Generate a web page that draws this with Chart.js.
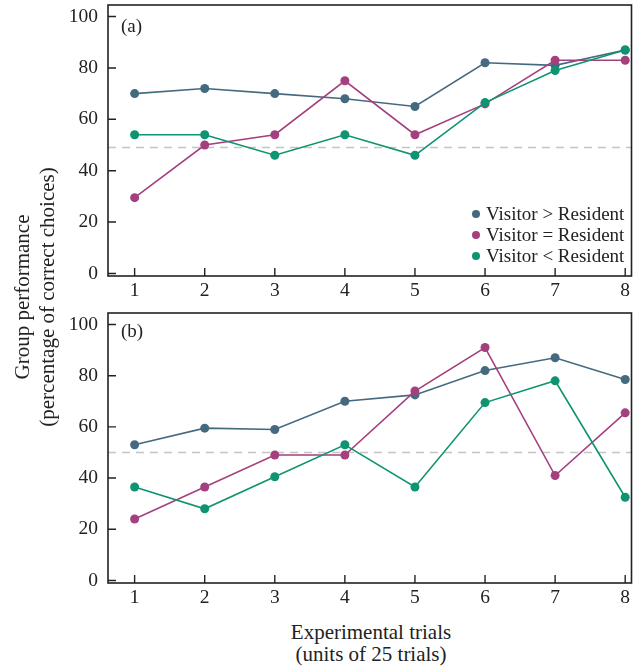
<!DOCTYPE html>
<html>
<head>
<meta charset="utf-8">
<script src="https://cdn.jsdelivr.net/npm/chart.js@4/dist/chart.umd.min.js"></script>
<style>
  body { margin: 0; background: #fff; }
  #wrap { position: relative; width: 636px; height: 667px; font-family: "Liberation Serif", "DejaVu Serif", serif; color: #222; }
  .panel { position: absolute; left: 0; width: 636px; }
  .tag { position: absolute; left: 121px; font-size: 19px; }
  #ytitle { position: absolute; left: 35px; top: 297px; width: 400px; text-align: center; font-size: 21px; line-height: 25px;
            transform: translate(-50%, -50%) rotate(-90deg); }
  #xtitle { position: absolute; left: 371px; top: 621px; transform: translateX(-50%); text-align: center; font-size: 21px; line-height: 22px; white-space: nowrap; }
  #legend { position: absolute; left: 472px; top: 203px; font-size: 19px; line-height: 21px; }
  #legend div { white-space: nowrap; }
  #legend span { display: inline-block; width: 8px; height: 8px; border-radius: 50%; margin-right: 6px; vertical-align: 2px; }
</style>
</head>
<body>
<div id="wrap">
  <div class="panel" style="top:0;height:300px"><canvas id="chartA" width="636" height="300"></canvas></div>
  <div class="panel" style="top:300px;height:310px"><canvas id="chartB" width="636" height="310"></canvas></div>
  <div class="tag" style="top:15px">(a)</div>
  <div class="tag" style="top:320px">(b)</div>
  <div id="legend"></div>
  <div id="ytitle">Group performance<br>(percentage of correct choices)</div>
  <div id="xtitle">Experimental trials<br>(units of 25 trials)</div>
</div>
<script>
const trials = [1, 2, 3, 4, 5, 6, 7, 8];
const yTicks = [0, 20, 40, 60, 80, 100];
const seriesNames = ['Visitor > Resident', 'Visitor = Resident', 'Visitor < Resident'];
const seriesColors = ['#456a80', '#a5407e', '#0e9470'];

// panel (a)
const aGreater = [70, 72, 70, 68, 65, 82, 81, 87];
const aEqual = [29.5, 50, 54, 75, 54, 66, 83, 83];
const aLess = [54, 54, 46, 54, 46, 66.5, 79, 87];
const aChance = 49;

// panel (b)
const bGreater = [53, 59.5, 59, 70, 72.5, 82, 87, 78.5];
const bEqual = [24, 36.5, 49, 49, 74, 91, 41, 65.5];
const bLess = [36.5, 28, 40.5, 53, 36.5, 69.5, 78, 32.5];
const bChance = 50;

const xMin = 0.62, xMax = 8.09;
const fontFam = '"Liberation Serif", "DejaVu Serif", serif';

// frame round the plot + ticks that point inward
const framePlugin = {
    id: 'frame',
    afterDraw(chart) {
        const { ctx, chartArea: a, scales } = chart;
        ctx.save();
        ctx.strokeStyle = '#222';
        ctx.lineWidth = 1.6;
        ctx.strokeRect(a.left, a.top, a.right - a.left, a.bottom - a.top);
        ctx.lineWidth = 1.4;
        ctx.beginPath();
        scales.x.ticks.forEach(t => {
            const px = scales.x.getPixelForValue(t.value);
            ctx.moveTo(px, a.bottom);
            ctx.lineTo(px, a.bottom - 8);
        });
        scales.y.ticks.forEach(t => {
            const py = scales.y.getPixelForValue(t.value);
            ctx.moveTo(a.left, py);
            ctx.lineTo(a.left + 8, py);
        });
        ctx.stroke();
        ctx.restore();
    }
};

function pts(vals) {
    return vals.map((v, i) => ({ x: trials[i], y: v }));
}

function makeChart(id, data, chance, padTop, xHeight) {
    const sets = data.map((vals, i) => ({
        label: seriesNames[i],
        data: pts(vals),
        borderColor: seriesColors[i],
        backgroundColor: seriesColors[i],
        borderWidth: 1.6,
        pointRadius: 4.5,
        pointBorderWidth: 0,
        order: 3 - i
    }));
    sets.push({
        label: 'chance',
        data: [{ x: xMin, y: chance }, { x: xMax, y: chance }],
        borderColor: '#c4c4c4',
        borderWidth: 1.6,
        borderDash: [8, 6],
        pointRadius: 0,
        order: 4
    });
    return new Chart(document.getElementById(id), {
        type: 'line',
        data: { datasets: sets },
        plugins: [framePlugin],
        options: {
            responsive: false,
            animation: false,
            layout: { padding: { top: padTop, right: 4, left: 0, bottom: 0 } },
            plugins: { legend: { display: false }, tooltip: { enabled: false } },
            scales: {
                x: {
                    type: 'linear', min: xMin, max: xMax,
                    afterBuildTicks: s => { s.ticks = trials.map(v => ({ value: v })); },
                    afterFit: s => { s.height = xHeight; s.paddingLeft = 0; s.paddingRight = 0; },
                    grid: { display: false, drawTicks: false },
                    border: { display: false },
                    ticks: { color: '#222', padding: 3, font: { family: fontFam, size: 19.5 } }
                },
                y: {
                    min: -1, max: 104.5,
                    afterBuildTicks: s => { s.ticks = yTicks.map(v => ({ value: v })); },
                    afterFit: s => { s.width = 108; s.paddingTop = 0; s.paddingBottom = 0; },
                    grid: { display: false, drawTicks: false },
                    border: { display: false },
                    ticks: { color: '#222', padding: 10, font: { family: fontFam, size: 19.5 } }
                }
            }
        }
    });
}

makeChart('chartA', [aGreater, aEqual, aLess], aChance, 5, 24);
makeChart('chartB', [bGreater, bEqual, bLess], bChance, 13, 27);

const legend = document.getElementById('legend');
seriesNames.forEach((name, i) => {
    const row = document.createElement('div');
    const dot = document.createElement('span');
    dot.style.background = seriesColors[i];
    row.appendChild(dot);
    row.appendChild(document.createTextNode(name));
    legend.appendChild(row);
});
</script>
</body>
</html>
